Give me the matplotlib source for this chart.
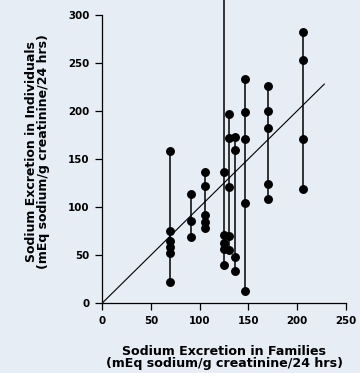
import matplotlib
matplotlib.use("Agg")
import matplotlib.pyplot as plt

family_x = [70, 91, 105, 125, 130.5, 136, 147, 170, 206.5]
individual_y = [
    [158, 75, 65, 58, 52, 21.5],
    [114, 85, 69],
    [136, 122, 91.5, 84.5, 78.5],
    [136.5, 71, 63, 56, 39.5],
    [197, 172, 120.5, 69.5, 55],
    [172.5, 159, 48, 33.5],
    [233.5, 199, 171, 104, 12],
    [226.5, 200.5, 182, 123.5, 108.5],
    [282, 253.5, 171, 119],
]
# family at x=125 has an individual off the top of the scale
off_scale = {125: 330}
identity_end = 228
xticks = [0, 50, 100, 150, 200, 250]
yticks = [0, 50, 100, 150, 200, 250, 300]

bg = "#e6edf4"
fig = plt.figure(figsize=(3.6, 3.73), dpi=100, facecolor=bg)
ax = fig.add_axes([102.3/360, 70/373, 243.4/360, 303/373])
ax.set_facecolor(bg)
ax.set_xlim(0, 250)
ax.set_ylim(0, 315.6)

ax.plot([0, identity_end], [0, identity_end], color="black", lw=0.8, zorder=2)

for x, ys in zip(family_x, individual_y):
    top = max(ys)
    if x in off_scale:
        top = off_scale[x]
    ax.plot([x, x], [min(ys), top], color="black", lw=1.1, zorder=3)
    ax.plot([x]*len(ys), ys, "o", color="black", ms=5.4, zorder=4, clip_on=False)

for s in ["top", "right"]:
    ax.spines[s].set_visible(False)
ax.spines["left"].set_bounds(0, 300)
ax.spines["bottom"].set_bounds(0, 250)
for s in ["left", "bottom"]:
    ax.spines[s].set_linewidth(0.9)

ax.set_xticks(xticks)
ax.set_yticks(yticks)
ax.tick_params(direction="out", length=5, width=0.9, labelsize=7.4, pad=4)
for lab in ax.get_xticklabels() + ax.get_yticklabels():
    lab.set_fontweight("bold")

ax.set_xlabel("Sodium Excretion in Families\n(mEq sodium/g creatinine/24 hrs)",
              fontsize=9.1, fontweight="bold", labelpad=14, linespacing=0.95)
ax.set_ylabel("Sodium Excretion in Individuals\n(mEq sodium/g creatinine/24 hrs)",
              fontsize=9.0, fontweight="bold", labelpad=13, linespacing=0.95)

fig.savefig("out.png", dpi=100, facecolor=bg)
